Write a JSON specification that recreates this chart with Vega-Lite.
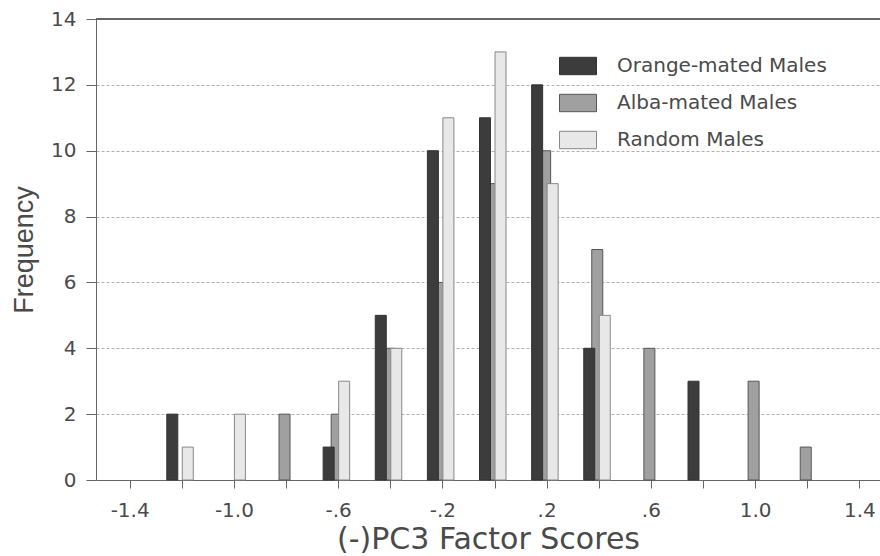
{
  "$schema": "https://vega.github.io/schema/vega-lite/v6.json",
  "width": 784,
  "height": 461,
  "autosize": {"type": "none"},
  "padding": {"left": 96, "top": 19, "right": 0, "bottom": 76},
  "background": "white",
  "config": {"view": {"stroke": null}, "font": "DejaVu Sans"},
  "data": {
    "values": [
      {"score": -1.2, "series": "Orange-mated Males", "count": 2},
      {"score": -0.6, "series": "Orange-mated Males", "count": 1},
      {"score": -0.4, "series": "Orange-mated Males", "count": 5},
      {"score": -0.2, "series": "Orange-mated Males", "count": 10},
      {"score": 0.0, "series": "Orange-mated Males", "count": 11},
      {"score": 0.2, "series": "Orange-mated Males", "count": 12},
      {"score": 0.4, "series": "Orange-mated Males", "count": 4},
      {"score": 0.8, "series": "Orange-mated Males", "count": 3},
      {"score": -0.8, "series": "Alba-mated Males", "count": 2},
      {"score": -0.6, "series": "Alba-mated Males", "count": 2},
      {"score": -0.4, "series": "Alba-mated Males", "count": 4},
      {"score": -0.2, "series": "Alba-mated Males", "count": 6},
      {"score": 0.0, "series": "Alba-mated Males", "count": 9},
      {"score": 0.2, "series": "Alba-mated Males", "count": 10},
      {"score": 0.4, "series": "Alba-mated Males", "count": 7},
      {"score": 0.6, "series": "Alba-mated Males", "count": 4},
      {"score": 1.0, "series": "Alba-mated Males", "count": 3},
      {"score": 1.2, "series": "Alba-mated Males", "count": 1},
      {"score": -1.2, "series": "Random Males", "count": 1},
      {"score": -1.0, "series": "Random Males", "count": 2},
      {"score": -0.6, "series": "Random Males", "count": 3},
      {"score": -0.4, "series": "Random Males", "count": 4},
      {"score": -0.2, "series": "Random Males", "count": 11},
      {"score": 0.0, "series": "Random Males", "count": 13},
      {"score": 0.2, "series": "Random Males", "count": 9},
      {"score": 0.4, "series": "Random Males", "count": 5}
    ]
  },
  "encoding": {
    "x": {
      "field": "score",
      "type": "quantitative",
      "scale": {"domain": [-1.51, 1.46], "nice": false, "zero": false},
      "axis": {
        "values": [-1.4, -1.2, -1, -0.8, -0.6, -0.4, -0.2, 0, 0.2, 0.4, 0.6, 0.8, 1, 1.2, 1.4],
        "labelExpr": "abs(round(datum.value*10)) % 4 == 2 ? (datum.value < 0 ? '-' : '') + (abs(datum.value) >= 1 ? format(abs(datum.value), '.1f') : replace(format(abs(datum.value), '.1f'), '0.', '.')) : ''",
        "grid": false,
        "domainColor": "#666",
        "tickColor": "#666",
        "tickSize": 8,
        "labelFontSize": 20,
        "labelColor": "#4a4a4a",
        "labelPadding": 12,
        "labelFlush": false,
        "labelOverlap": false,
        "title": "(-)PC3 Factor Scores",
        "titleFontSize": 30,
        "titleColor": "#4a4a4a",
        "titleFontWeight": "normal",
        "titlePadding": 4
      }
    },
    "y": {
      "field": "count",
      "type": "quantitative",
      "scale": {"domain": [0, 14], "nice": false},
      "axis": {
        "values": [0, 2, 4, 6, 8, 10, 12, 14],
        "grid": true,
        "gridDash": [3, 2],
        "gridColor": "#b0b0b0",
        "domainColor": "#666",
        "tickColor": "#666",
        "tickSize": 10,
        "labelFontSize": 20,
        "labelColor": "#4a4a4a",
        "labelPadding": 10,
        "title": "Frequency",
        "titleFont": "Liberation Sans",
        "titleFontSize": 27,
        "titleColor": "#4a4a4a",
        "titleFontWeight": "normal",
        "titlePadding": 12
      }
    },
    "fill": {
      "field": "series",
      "type": "nominal",
      "scale": {
        "domain": ["Orange-mated Males", "Alba-mated Males", "Random Males"],
        "range": ["#3c3c3c", "#a0a0a0", "#e8e8e8"]
      },
      "legend": {
        "title": null,
        "orient": "none",
        "legendX": 463,
        "legendY": 28,
        "padding": 0,
        "symbolType": "M-1,-0.47H1V0.47H-1Z",
        "symbolSize": 1369,
        "symbolStrokeWidth": 1,
        "labelFontSize": 20,
        "labelColor": "#4a4a4a",
        "labelOffset": 20,
        "rowPadding": 7,
        "labelLimit": 400
      }
    },
    "stroke": {
      "field": "series",
      "type": "nominal",
      "scale": {
        "domain": ["Orange-mated Males", "Alba-mated Males", "Random Males"],
        "range": ["#333333", "#555555", "#888888"]
      },
      "legend": {
        "title": null,
        "orient": "none",
        "legendX": 463,
        "legendY": 28,
        "padding": 0,
        "symbolType": "M-1,-0.47H1V0.47H-1Z",
        "symbolSize": 1369,
        "symbolStrokeWidth": 1,
        "labelFontSize": 20,
        "labelColor": "#4a4a4a",
        "labelOffset": 20,
        "rowPadding": 7,
        "labelLimit": 400
      }
    }
  },
  "layer": [
    {
      "transform": [{"filter": "datum.series === 'Alba-mated Males'"}],
      "mark": {"type": "bar", "width": 11, "xOffset": -1.5, "strokeWidth": 1}
    },
    {
      "transform": [{"filter": "datum.series === 'Orange-mated Males'"}],
      "mark": {"type": "bar", "width": 11, "xOffset": -9.5, "strokeWidth": 1}
    },
    {
      "transform": [{"filter": "datum.series === 'Random Males'"}],
      "mark": {"type": "bar", "width": 11, "xOffset": 6, "strokeWidth": 1}
    },
    {
      "mark": {"type": "rule", "color": "#666", "strokeWidth": 1.2},
      "encoding": {
        "y": {"datum": 14, "type": "quantitative"},
        "x": null,
        "fill": null,
        "stroke": null
      }
    }
  ]
}
